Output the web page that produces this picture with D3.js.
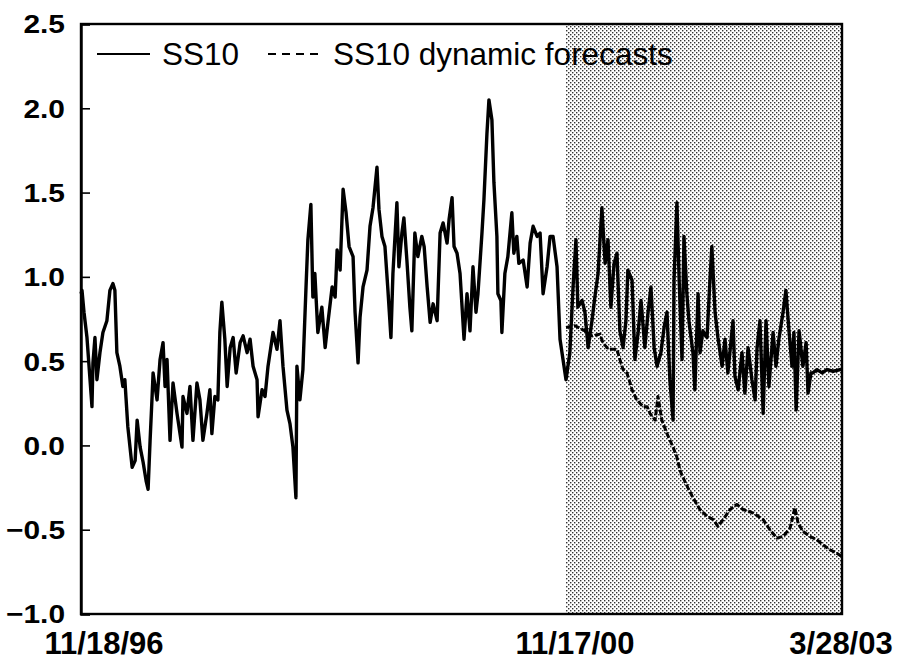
<!DOCTYPE html>
<html><head><meta charset="utf-8">
<script src="https://cdn.jsdelivr.net/npm/d3@7"></script>
<style>body{margin:0;background:#fff}svg{display:block}</style>
</head><body>
<svg id="c" width="902" height="663"></svg>
<script>
// Days since 11/18/96 and SS10 values
const ss10Day = [0,3,9,18,33,36,42,48,57,66,78,87,96,102,108,117,126,132,141,154,163,169,178,187,196,202,208,214,217,229,238,247,253,259,268,277,289,304,307,319,328,337,349,358,367,379,388,394,403,412,418,424,433,440,449,458,467,479,488,500,509,518,530,533,545,554,563,578,590,599,608,620,629,638,647,650,659,668,677,683,692,698,704,713,725,735,744,756,765,771,780,789,798,807,819,825,834,840,849,861,870,879,891,897,906,915,924,933,939,951,957,966,972,981,990,996,1005,1014,1026,1033,1042,1051,1060,1072,1081,1090,1102,1108,1117,1123,1132,1141,1153,1162,1171,1180,1189,1195,1207,1213,1222,1228,1237,1243,1252,1255,1264,1267,1276,1285,1297,1303,1312,1318,1331,1343,1352,1361,1373,1382,1391,1403,1412,1421,1433,1442,1451,1460,1472,1482,1491,1497,1510,1519,1529,1541,1550,1560,1572,1582,1591,1600,1610,1619,1628,1638,1647,1653,1666,1675,1685,1694,1706,1716,1725,1735,1744,1756,1766,1775,1784,1794,1797,1806,1813,1822,1828,1837,1844,1856,1862,1872,1878,1887,1900,1909,1915,1925,1934,1947,1956,1965,1981,1987,1997,2009,2018,2028,2040,2050,2056,2065,2075,2084,2093,2106,2115,2124,2137,2146,2156,2165,2171,2178,2187,2199,2209,2215,2224,2230,2243,2259,2274,2293,2315,2321];
const ss10 = [0.90,0.92,0.79,0.64,0.23,0.49,0.64,0.39,0.55,0.67,0.74,0.92,0.96,0.92,0.55,0.47,0.35,0.39,0.11,-0.13,-0.09,0.15,-0.01,-0.10,-0.21,-0.26,0.03,0.29,0.43,0.27,0.51,0.61,0.35,0.51,0.03,0.37,0.19,-0.01,0.29,0.19,0.35,0.03,0.37,0.27,0.03,0.19,0.33,0.07,0.29,0.27,0.67,0.85,0.63,0.35,0.58,0.64,0.43,0.61,0.65,0.55,0.63,0.47,0.39,0.17,0.33,0.29,0.47,0.67,0.57,0.74,0.47,0.21,0.13,-0.01,-0.31,0.47,0.27,0.45,0.92,1.22,1.43,0.88,1.02,0.67,0.82,0.58,0.74,0.94,0.88,1.16,1.04,1.52,1.38,1.18,1.12,0.79,0.49,0.76,0.94,1.04,1.30,1.41,1.65,1.40,1.24,1.18,0.92,0.64,1.02,1.44,1.06,1.26,1.35,1.10,0.82,0.68,1.26,1.12,1.24,1.18,0.94,0.73,0.84,0.74,1.26,1.32,1.20,1.34,1.47,1.18,1.14,1.02,0.63,0.90,0.68,1.06,0.79,0.90,1.26,1.46,1.85,2.05,1.93,1.56,1.24,0.90,0.86,0.67,1.02,1.12,1.38,1.14,1.24,1.08,1.10,0.94,1.20,1.30,1.24,1.26,0.90,1.06,1.24,1.24,1.06,0.63,0.51,0.39,0.55,0.94,1.22,0.82,0.86,0.79,0.58,0.74,0.88,1.02,1.41,1.08,1.22,0.82,1.08,1.14,0.68,0.58,0.74,1.04,0.98,0.51,0.67,0.86,0.58,0.79,0.94,0.58,0.47,0.55,0.70,0.79,0.39,0.15,0.98,1.44,0.98,0.51,1.24,0.90,0.73,0.55,0.33,0.90,0.55,0.68,0.64,0.98,1.18,0.79,0.64,0.47,0.63,0.43,0.74,0.41,0.33,0.55,0.31,0.58,0.39,0.27,0.58,0.74,0.19,0.74,0.35,0.67,0.47,0.63,0.79,0.92,0.67,0.47,0.67,0.21,0.68,0.47,0.61,0.31,0.43,0.43,0.45,0.43,0.45,0.44,0.45,0.45];
// Dynamic forecast (out of sample)
const fcDay = [1460,1488,1519,1541,1566,1575,1588,1597,1619,1628,1638,1650,1660,1666,1681,1700,1713,1722,1738,1747,1759,1775,1794,1806,1816,1825,1840,1856,1878,1900,1919,1934,1950,1972,1993,2012,2043,2075,2096,2118,2137,2159,2174,2184,2199,2221,2243,2262,2284,2305,2321];
const fcValues = [0.70,0.71,0.68,0.65,0.66,0.61,0.58,0.57,0.57,0.51,0.45,0.43,0.37,0.33,0.27,0.23,0.23,0.19,0.15,0.29,0.15,0.07,-0.01,-0.07,-0.15,-0.19,-0.25,-0.31,-0.38,-0.42,-0.44,-0.48,-0.44,-0.38,-0.35,-0.38,-0.40,-0.44,-0.50,-0.55,-0.54,-0.49,-0.37,-0.46,-0.51,-0.54,-0.56,-0.59,-0.62,-0.64,-0.66];
const xTickDays = [0, 1460, 2321];
const xTickLabels = ["11/18/96", "11/17/00", "3/28/03"];
const yTicks = [-1.0, -0.5, 0.0, 0.5, 1.0, 1.5, 2.0, 2.5];
const legendLabels = ["SS10", "SS10 dynamic forecasts"];
const forecastStart = 1460, lastDay = 2321;

const L = 81, R = 842, T = 24, B = 614, SPLIT = 566;
const FONT = "'Liberation Sans', Arial, Helvetica, sans-serif";
const svg = d3.select("#c");
const x = d3.scaleLinear().domain([0, forecastStart, lastDay]).range([L, SPLIT, R]);
const y = d3.scaleLinear().domain([-1, 2.5]).range([B, T]);

const defs = svg.append("defs");
const pat = defs.append("pattern").attr("id","dots").attr("patternUnits","userSpaceOnUse")
  .attr("width",4).attr("height",4);
pat.append("rect").attr("width",4).attr("height",4).attr("fill","#fff");
pat.append("rect").attr("x",0).attr("y",0).attr("width",1.4).attr("height",1.4).attr("fill","#333");
pat.append("rect").attr("x",2).attr("y",2).attr("width",1.4).attr("height",1.4).attr("fill","#333");

svg.append("rect").attr("x", x(forecastStart)).attr("y", T)
  .attr("width", x(lastDay) - x(forecastStart)).attr("height", B - T).attr("fill","url(#dots)");

const line = d3.line().x(d => x(d[0])).y(d => y(d[1]));
svg.append("path").datum(fcDay.map((d,i)=>[d, fcValues[i]]))
  .attr("d", line).attr("fill","none").attr("stroke","#000").attr("stroke-width",3)
  .attr("stroke-dasharray","6,2").attr("stroke-linejoin","round");
svg.append("path").datum(ss10Day.map((d,i)=>[d, ss10[i]]))
  .attr("d", line).attr("fill","none").attr("stroke","#000").attr("stroke-width",3.4)
  .attr("stroke-linejoin","round");

// frame
svg.append("rect").attr("x",L).attr("y",T).attr("width",R-L).attr("height",B-T)
  .attr("fill","none").attr("stroke","#000").attr("stroke-width",2.4);

// y axis
const yAxis = d3.axisLeft(y).tickValues(yTicks).tickSize(-9).tickFormat("");
const gy = svg.append("g").attr("transform",`translate(${L},0)`).call(yAxis);
gy.select(".domain").attr("stroke-width",2.4);
gy.selectAll(".tick line").attr("stroke-width",1.6);
svg.append("g").selectAll("text").data(yTicks).join("text")
  .attr("transform", d => `translate(65,${y(d)}) scale(1.15,1)`)
  .attr("text-anchor","end").attr("dy","0.36em")
  .attr("font-family",FONT).attr("font-weight","bold").attr("font-size",26)
  .text(d3.format(".1f"));

// x labels
const dxs = [23, 9, -1];
svg.append("g").selectAll("text").data(xTickDays).join("text")
  .attr("x", (d,i) => x(d) + dxs[i]).attr("y", 654).attr("text-anchor","middle")
  .attr("font-family",FONT).attr("font-weight","bold")
  .attr("font-size",31).text((d,i) => xTickLabels[i]);

// legend
const lg = svg.append("g").attr("font-family",FONT).attr("font-size",31.5);
lg.append("line").attr("x1",97).attr("x2",150).attr("y1",54).attr("y2",54).attr("stroke","#000").attr("stroke-width",2);
lg.append("text").attr("x",162).attr("y",65).text(legendLabels[0]);
lg.append("line").attr("x1",268).attr("x2",318).attr("y1",54).attr("y2",54).attr("stroke","#000").attr("stroke-width",2).attr("stroke-dasharray","8,6");
lg.append("text").attr("x",333).attr("y",65).text(legendLabels[1]);
</script>
</body></html>
